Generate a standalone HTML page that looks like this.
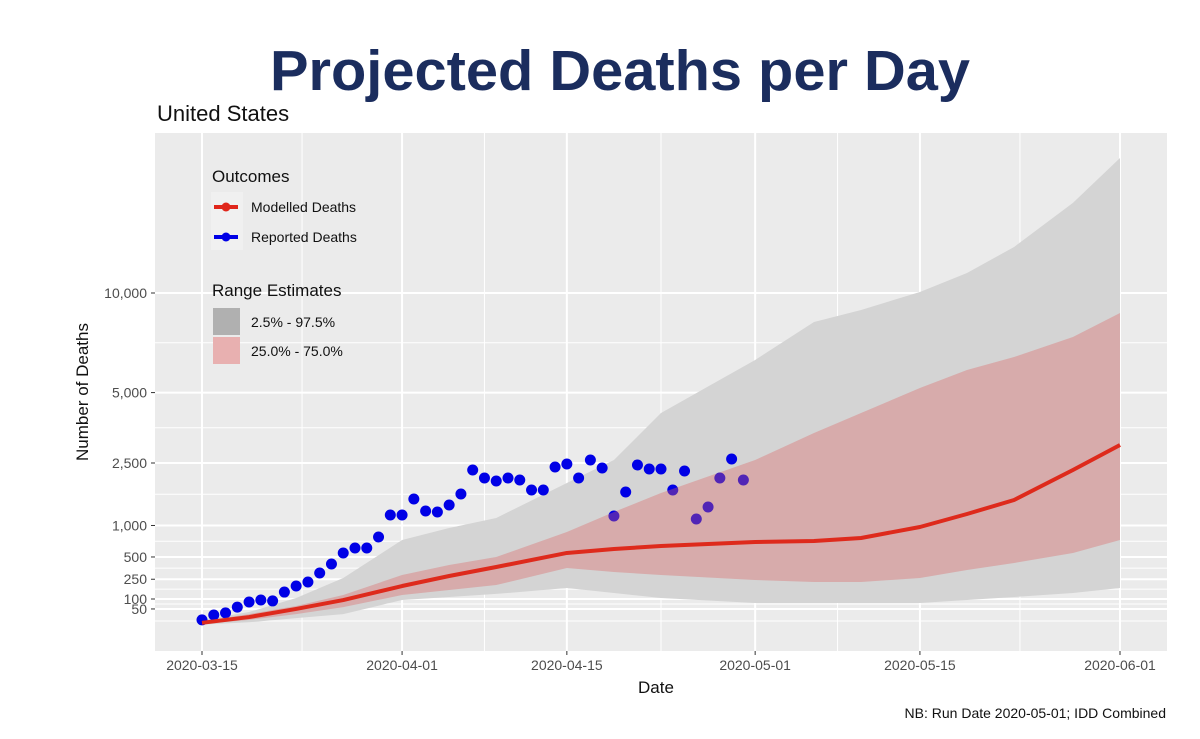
<!DOCTYPE html>
<html><head><meta charset="utf-8"><style>
body{margin:0;background:#fff;}
svg{display:block;font-family:"Liberation Sans","DejaVu Sans",sans-serif;}
</style></head><body>
<svg id="chart" width="1200" height="739" viewBox="0 0 1200 739">
<text x="620" y="90" text-anchor="middle" font-size="57" font-weight="bold" fill="#1b2d5e" textLength="700" lengthAdjust="spacingAndGlyphs">Projected Deaths per Day</text>
<text x="157" y="121" font-size="22" fill="#111">United States</text>
<rect x="155" y="133" width="1012" height="518" fill="#ebebeb"/>
<g id="grid"></g><g id="ribbons"></g><g id="pts"></g><g id="pink"></g><g id="line"></g><g id="axes"></g>
<text x="88" y="392" font-size="17" fill="#111" text-anchor="middle" transform="rotate(-90 88 392)">Number of Deaths</text>
<text x="656" y="693" font-size="17" fill="#111" text-anchor="middle">Date</text>
<text x="1166" y="718" font-size="14" fill="#111" text-anchor="end">NB: Run Date 2020-05-01; IDD Combined</text>
<g>
<text x="212" y="182" font-size="17" fill="#111">Outcomes</text>
<rect x="211" y="192" width="32" height="58" fill="#f0f0f0"/>
<line x1="214" y1="207" x2="238" y2="207" stroke="#e0261b" stroke-width="4"/>
<circle cx="226" cy="207" r="4.5" fill="#e0261b"/>
<text x="251" y="212" font-size="14" fill="#111">Modelled Deaths</text>
<line x1="214" y1="237" x2="238" y2="237" stroke="#0000e6" stroke-width="4"/>
<circle cx="226" cy="237" r="4.5" fill="#0000e6"/>
<text x="251" y="242" font-size="14" fill="#111">Reported Deaths</text>
<text x="212" y="296" font-size="17" fill="#111">Range Estimates</text>
<rect x="213" y="308" width="27" height="27" fill="#b0b0b0"/>
<text x="251" y="327" font-size="14" fill="#111">2.5% - 97.5%</text>
<rect x="213" y="337" width="27" height="27" fill="#e8b0b0"/>
<text x="251" y="356" font-size="14" fill="#111">25.0% - 75.0%</text>
</g>
</svg>
<script>
const reportedValues=[15,28,35,58,83,94,89,145,191,225,311,412,554,625,625,797,1204,1204,1553,1287,1266,1417,1671,2298,2078,1998,2078,2025,1769,1769,2384,2470,2078,2589,2355,1184,1720,2442,2326,2326,1769,2270,1124,1373,2078,2619,2025];
const modelDays=[0,4,8,12,17,21,25,31,35,39,47,52,56,61,65,69,74,78];
const modelled=[9,22,50,94,191,281,377,554,610,655,716,732,781,972,1225,1530,2298,3057];
const upper95=[15,38,106,262,748,954,1144,1946,2589,4187,6449,8370,9027,10060,11211,12890,16000,19520];
const lower95=[6,10,19,31,94,112,132,175,138,106,78,78,78,78,94,112,138,175];
const upper50=[12,31,63,125,291,400,500,882,1267,1696,2589,3460,4187,5192,5983,6590,7580,8858];
const lower50=[7,15,31,58,125,160,199,365,322,291,243,225,225,262,343,424,554,748];
const yTicks=[50,100,250,500,1000,2500,5000,10000];
const yTickLabels=["50","100","250","500","1,000","2,500","5,000","10,000"];
const xTickDays=[0,17,31,47,61,78];
const xTickLabels=["2020-03-15","2020-04-01","2020-04-15","2020-05-01","2020-05-15","2020-06-01"];
const NS="http://www.w3.org/2000/svg";
const X=d=>202+d*(918/78);
const Y=v=>633-3.4*Math.sqrt(v);
function mk(p,tag,a){const e=document.createElementNS(NS,tag);for(const k in a)e.setAttribute(k,a[k]);document.getElementById(p).appendChild(e);return e;}
for(let i=0;i<xTickDays.length-1;i++){const m=(X(xTickDays[i])+X(xTickDays[i+1]))/2;
const g=mk('grid','line',{x1:m,x2:m,y1:133,y2:651,stroke:'#fff','stroke-width':1});

}
const ys=[0].concat(yTicks);
for(let i=0;i<ys.length-1;i++){const m=(Y(ys[i])+Y(ys[i+1]))/2;
const g=mk('grid','line',{x1:155,x2:1167,y1:m,y2:m,stroke:'#fff','stroke-width':1});

}
xTickDays.forEach((d,i)=>{const g=mk('grid','line',{x1:X(d),x2:X(d),y1:133,y2:651,stroke:'#fff','stroke-width':2});


const t=mk('axes','line',{x1:X(d),x2:X(d),y1:651,y2:655,stroke:'#333'});


const l=mk('axes','text',{x:X(d),y:670,'font-size':14,fill:'#4d4d4d','text-anchor':'middle'});l.textContent=xTickLabels[i];

});
yTicks.forEach((v,i)=>{const g=mk('grid','line',{x1:155,x2:1167,y1:Y(v),y2:Y(v),stroke:'#fff','stroke-width':2});


const t=mk('axes','line',{x1:151,x2:155,y1:Y(v),y2:Y(v),stroke:'#333'});


const l=mk('axes','text',{x:147,y:Y(v)+5,'font-size':14,fill:'#4d4d4d','text-anchor':'end'});l.textContent=yTickLabels[i];

});
function band(up,lo){let d='';modelDays.forEach((x,i)=>{d+=(i?'L':'M')+X(x)+','+Y(up[i]);});
for(let i=modelDays.length-1;i>=0;i--)d+='L'+X(modelDays[i])+','+Y(lo[i]);return d+'Z';}
const r1=mk('ribbons','path',{d:band(upper95,lower95),fill:'#d4d4d4'});


reportedValues.forEach((v,i)=>{const c=mk('pts','circle',{cx:X(i),cy:Y(v),r:5.5,fill:'#0000e6'});

});
const r2=mk('pink','path',{d:band(upper50,lower50),fill:'rgba(220,100,100,0.37)'});


let ld='';modelDays.forEach((x,i)=>{ld+=(i?'L':'M')+X(x)+','+Y(modelled[i]);});
const ln=mk('line','path',{d:ld,fill:'none',stroke:'#de2a1c','stroke-width':4,'stroke-linejoin':'round'});


</script>
</body></html>
